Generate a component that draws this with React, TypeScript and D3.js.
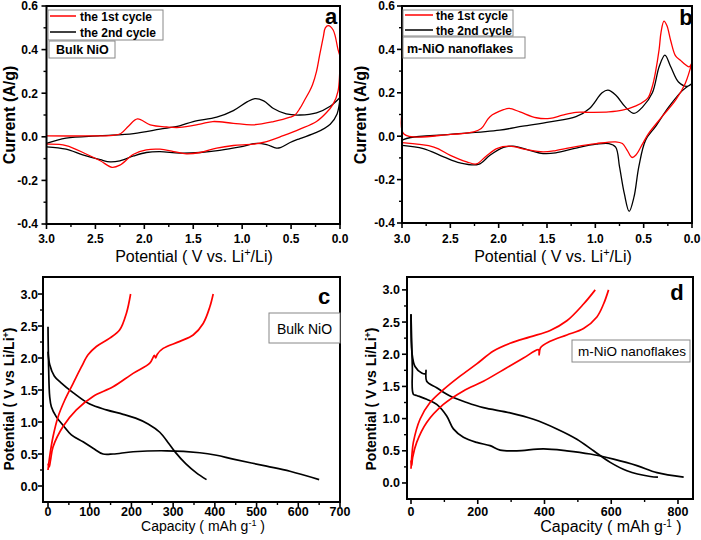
import React from 'react';
import * as d3 from 'd3';

type Pt = [number, number];

// ---------- Panel a (Bulk NiO CV) ----------
const aRed1Cathodic: Pt[] = [[3.0,-0.034],[2.8,-0.04],[2.59,-0.08],[2.45,-0.11],[2.33,-0.14],[2.25,-0.13],[2.11,-0.08],[1.98,-0.06],[1.84,-0.057],[1.70,-0.068],[1.57,-0.078],[1.43,-0.072],[1.26,-0.052],[1.09,-0.04],[0.89,-0.034],[0.75,-0.022],[0.58,0.005],[0.41,0.035],[0.24,0.07],[0.14,0.11],[0.07,0.15],[0.02,0.21],[0.0,0.37]];
const aRed1Anodic: Pt[] = [[0.0,0.37],[0.02,0.40],[0.07,0.49],[0.12,0.51],[0.15,0.50],[0.17,0.46],[0.21,0.37],[0.24,0.30],[0.28,0.24],[0.31,0.21],[0.36,0.17],[0.41,0.13],[0.46,0.10],[0.51,0.09],[0.68,0.07],[0.89,0.055],[1.09,0.062],[1.30,0.07],[1.43,0.058],[1.64,0.043],[1.77,0.045],[1.94,0.055],[2.07,0.082],[2.16,0.05],[2.24,0.015],[2.32,0.007],[2.6,0.004],[3.0,0.004]];
const aBlackCathodic: Pt[] = [[3.0,-0.046],[2.8,-0.057],[2.63,-0.083],[2.45,-0.105],[2.35,-0.115],[2.25,-0.11],[2.11,-0.088],[1.98,-0.072],[1.84,-0.068],[1.64,-0.075],[1.43,-0.072],[1.23,-0.062],[1.02,-0.046],[0.85,-0.03],[0.75,-0.036],[0.65,-0.052],[0.61,-0.05],[0.51,-0.026],[0.41,-0.008],[0.24,0.02],[0.10,0.058],[0.03,0.105],[0.0,0.18]];
const aBlackAnodic: Pt[] = [[0.0,0.18],[0.10,0.14],[0.24,0.11],[0.41,0.10],[0.55,0.105],[0.68,0.13],[0.78,0.165],[0.87,0.175],[0.95,0.16],[1.09,0.12],[1.26,0.09],[1.5,0.07],[1.64,0.05],[1.84,0.035],[2.11,0.015],[2.45,0.005],[2.8,-0.006],[3.0,-0.03]];

// ---------- Panel b (m-NiO nanoflakes CV) ----------
const bRed1Cathodic: Pt[] = [[3.0,-0.03],[2.67,-0.05],[2.5,-0.088],[2.33,-0.118],[2.23,-0.128],[2.13,-0.092],[2.02,-0.057],[1.89,-0.046],[1.71,-0.062],[1.54,-0.072],[1.41,-0.066],[1.20,-0.048],[0.99,-0.034],[0.79,-0.026],[0.72,-0.034],[0.67,-0.065],[0.62,-0.098],[0.58,-0.087],[0.51,-0.034],[0.45,0.012],[0.31,0.09],[0.17,0.166],[0.07,0.243],[0.0,0.34]];
const bRed1Anodic: Pt[] = [[0.0,0.34],[0.03,0.32],[0.07,0.33],[0.12,0.35],[0.17,0.37],[0.22,0.44],[0.26,0.51],[0.29,0.53],[0.32,0.48],[0.34,0.40],[0.38,0.29],[0.41,0.23],[0.45,0.18],[0.48,0.166],[0.58,0.14],[0.72,0.12],[0.86,0.112],[1.06,0.11],[1.20,0.11],[1.34,0.097],[1.47,0.082],[1.61,0.085],[1.78,0.112],[1.89,0.128],[1.95,0.122],[2.09,0.09],[2.18,0.035],[2.26,0.02],[2.5,0.008],[2.98,0.01],[3.0,0.105]];
const bBlackCathodic: Pt[] = [[3.0,-0.042],[2.78,-0.057],[2.57,-0.095],[2.4,-0.123],[2.21,-0.13],[2.09,-0.088],[1.95,-0.052],[1.85,-0.046],[1.68,-0.065],[1.54,-0.08],[1.41,-0.077],[1.20,-0.055],[0.99,-0.037],[0.86,-0.034],[0.79,-0.05],[0.75,-0.14],[0.70,-0.265],[0.65,-0.346],[0.60,-0.28],[0.55,-0.14],[0.48,-0.018],[0.38,0.043],[0.24,0.135],[0.10,0.21],[0.0,0.243]];
const bBlackAnodic: Pt[] = [[0.0,0.243],[0.05,0.23],[0.14,0.25],[0.22,0.32],[0.28,0.374],[0.34,0.32],[0.41,0.2],[0.51,0.135],[0.60,0.105],[0.69,0.135],[0.79,0.19],[0.87,0.212],[0.93,0.2],[1.06,0.128],[1.20,0.09],[1.47,0.066],[1.75,0.046],[1.99,0.028],[2.5,0.008],[2.91,-0.006],[3.0,-0.018]];

// ---------- Panel c (Bulk NiO charge/discharge) ----------
const cBlackDis1: Pt[] = [[0,2.49],[1.5,1.85],[4,1.40],[8,1.24],[20,1.08],[36,0.95],[56,0.80],[84,0.69],[108,0.59],[132,0.50],[156,0.50],[204,0.535],[284,0.55],[364,0.52],[404,0.48],[444,0.42],[524,0.31],[580,0.23],[650,0.1]];
const cBlackDis2: Pt[] = [[0,2.1],[4,1.9],[15,1.72],[30,1.62],[60,1.46],[100,1.28],[140,1.19],[180,1.12],[210,1.06],[240,0.97],[268,0.84],[290,0.66],[305,0.53],[330,0.35],[355,0.21],[380,0.1]];
const cRedCh2: Pt[] = [[0,0.25],[4,0.46],[12,0.77],[24,1.08],[40,1.34],[60,1.6],[80,1.86],[96,2.05],[116,2.18],[148,2.31],[172,2.44],[188,2.70],[198,3.0]];
const cRedCh1: Pt[] = [[0,0.35],[3,0.3],[6,0.4],[12,0.61],[36,0.93],[68,1.19],[108,1.40],[156,1.55],[204,1.76],[244,1.92],[255,2.04],[258,2.0],[262,2.06],[276,2.15],[316,2.26],[348,2.36],[372,2.54],[388,2.8],[396,3.0]];

// ---------- Panel d (m-NiO nanoflakes charge/discharge) ----------
const dBlackA: Pt[] = [[0,2.62],[3,2.02],[12,1.81],[32,1.71],[44,1.70],[45,1.75],[47,1.58],[77,1.48],[117,1.35],[167,1.25],[217,1.17],[297,1.09],[367,0.99],[437,0.84],[497,0.68],[547,0.5],[597,0.32],[647,0.19],[717,0.10],[740,0.09]];
const dBlackB: Pt[] = [[0,2.62],[4,1.8],[7,1.38],[17,1.36],[47,1.30],[77,1.22],[107,1.04],[127,0.84],[157,0.71],[197,0.63],[237,0.58],[267,0.51],[317,0.5],[397,0.53],[467,0.5],[537,0.45],[607,0.37],[677,0.27],[737,0.16],[817,0.09]];
const dRedA: Pt[] = [[0,0.22],[3,0.45],[7,0.63],[27,0.99],[57,1.25],[97,1.45],[147,1.66],[197,1.85],[247,2.05],[297,2.17],[357,2.27],[417,2.37],[467,2.52],[517,2.78],[552,3.0]];
const dRedB: Pt[] = [[0,0.35],[2,0.27],[5,0.4],[17,0.63],[47,0.94],[97,1.22],[157,1.43],[217,1.58],[277,1.76],[337,1.94],[382,2.07],[384,1.99],[388,2.1],[417,2.2],[467,2.3],[517,2.4],[557,2.58],[577,2.78],[592,3.0]];

// ---------- ticks ----------
const cvXTicks = [3.0, 2.5, 2.0, 1.5, 1.0, 0.5, 0.0];
const cvYTicks = [-0.4, -0.2, 0.0, 0.2, 0.4, 0.6];
const cXTicks = [0, 100, 200, 300, 400, 500, 600, 700];
const dXTicks = [0, 200, 400, 600, 800];
const gcdYTicks = [0.0, 0.5, 1.0, 1.5, 2.0, 2.5, 3.0];

const legendLabels = ['the 1st cycle', 'the 2nd cycle'];

const RED = '#ff0000';
const BLK = '#000000';
const FONT = 'Liberation Sans, Arial, sans-serif';

const mids = (t: number[]) => t.slice(1).map((v, i) => (v + t[i]) / 2);

interface Series { data: Pt[]; color: string; w: number }
interface Box { x0: number; x1: number; y0: number; y1: number }

function Panel(props: {
  box: Box; xDomain: [number, number]; yDomain: [number, number];
  xTicks: number[]; yTicks: number[]; xFmt: (v: number) => string; yFmt: (v: number) => string;
  series: Series[]; xLabelBase: number; yLabelRight: number; tickSize: number;
}) {
  const { box, xDomain, yDomain, xTicks, yTicks, xFmt, yFmt, series, xLabelBase, yLabelRight, tickSize } = props;
  const x = d3.scaleLinear().domain(xDomain).range([box.x0, box.x1]);
  const y = d3.scaleLinear().domain(yDomain).range([box.y1, box.y0]);
  const line = d3.line<Pt>().x(d => x(d[0])).y(d => y(d[1])).curve(d3.curveCatmullRom.alpha(0.5));
  const xm = mids(xTicks);
  const ym = mids(yTicks);
  return (
    <g>
      {series.map((s, i) => (
        <path key={i} d={line(s.data) || ''} fill="none" stroke={s.color} strokeWidth={s.w} strokeLinejoin="round" />
      ))}
      <rect x={box.x0} y={box.y0} width={box.x1 - box.x0} height={box.y1 - box.y0} fill="none" stroke="#000" strokeWidth={2} />
      {xTicks.map((t, i) => (
        <g key={'xt' + i}>
          <line x1={x(t)} x2={x(t)} y1={box.y1} y2={box.y1 + 5} stroke="#000" strokeWidth={1.6} />
          <text x={x(t)} y={xLabelBase} textAnchor="middle" fontSize={tickSize} fontWeight="bold" fontFamily={FONT}>{xFmt(t)}</text>
        </g>
      ))}
      {xm.map((t, i) => (
        <line key={'xm' + i} x1={x(t)} x2={x(t)} y1={box.y1} y2={box.y1 + 3} stroke="#000" strokeWidth={1.4} />
      ))}
      {yTicks.map((t, i) => (
        <g key={'yt' + i}>
          <line x1={box.x0 - 5} x2={box.x0} y1={y(t)} y2={y(t)} stroke="#000" strokeWidth={1.6} />
          <text x={yLabelRight} y={y(t)} dy="0.36em" textAnchor="end" fontSize={tickSize} fontWeight="bold" fontFamily={FONT}>{yFmt(t)}</text>
        </g>
      ))}
      {ym.map((t, i) => (
        <line key={'ym' + i} x1={box.x0 - 3} x2={box.x0} y1={y(t)} y2={y(t)} stroke="#000" strokeWidth={1.4} />
      ))}
    </g>
  );
}

const f1 = (v: number) => v.toFixed(1);
const f0 = (v: number) => String(v);

export default function App() {
  const boxA: Box = { x0: 46.5, x1: 340, y0: 6, y1: 224 };
  const boxB: Box = { x0: 402, x1: 692, y0: 6, y1: 223 };
  const boxC: Box = { x0: 43, x1: 340, y0: 277, y1: 502 };
  const boxD: Box = { x0: 407, x1: 693, y0: 277, y1: 499 };
  const cvW = 1.3;
  const gW = 1.7;
  return (
    <svg width={701} height={540} style={{ position: 'absolute', left: 0, top: 0, background: '#fff' }} fontFamily={FONT}>
      <rect width={701} height={540} fill="#fff" />
      {/* Panel a */}
      <Panel box={boxA} xDomain={[3, 0]} yDomain={[-0.4, 0.6]} xTicks={cvXTicks} yTicks={cvYTicks} xFmt={f1} yFmt={f1}
        series={[
          { data: aBlackCathodic.concat(aBlackAnodic), color: BLK, w: cvW },
          { data: aRed1Cathodic.concat(aRed1Anodic), color: RED, w: cvW },
        ]} xLabelBase={243} yLabelRight={38} tickSize={12} />
      <rect x={48} y={10} width={115} height={30} fill="#fff" stroke="#888" strokeWidth={1} />
      <line x1={50} x2={76} y1={16} y2={16} stroke={RED} strokeWidth={1.5} />
      <line x1={50} x2={76} y1={32} y2={32} stroke={BLK} strokeWidth={1.5} />
      <text x={80} y={20.5} fontSize={12} fontWeight="bold">{legendLabels[0]}</text>
      <text x={80} y={36.5} fontSize={12} fontWeight="bold">{legendLabels[1]}</text>
      <rect x={49} y={41} width={66} height={17} fill="#fff" stroke="#888" strokeWidth={1} />
      <text x={56} y={54} fontSize={12.5} fontWeight="bold">Bulk NiO</text>
      <text x={331} y={24} fontSize={22} fontWeight="bold" textAnchor="middle">a</text>
      <text transform="translate(9,115) rotate(-90)" textAnchor="middle" dy="0.36em" fontSize={16} fontWeight="bold">Current (A/g)</text>
      <text x={194} y={262} textAnchor="middle" fontSize={16}>Potential ( V vs. Li<tspan dy={-6} fontSize={11}>+</tspan><tspan dy={6}>/Li)</tspan></text>

      {/* Panel b */}
      <Panel box={boxB} xDomain={[3, 0]} yDomain={[-0.4, 0.6]} xTicks={cvXTicks} yTicks={cvYTicks} xFmt={f1} yFmt={f1}
        series={[
          { data: bBlackCathodic.concat(bBlackAnodic), color: BLK, w: cvW },
          { data: bRed1Cathodic.concat(bRed1Anodic), color: RED, w: cvW },
        ]} xLabelBase={243} yLabelRight={395} tickSize={12} />
      <rect x={403} y={10} width={110} height={26} fill="#fff" stroke="#888" strokeWidth={1} />
      <line x1={405} x2={433} y1={15} y2={15} stroke={RED} strokeWidth={1.5} />
      <line x1={405} x2={433} y1={30} y2={30} stroke={BLK} strokeWidth={1.5} />
      <text x={436} y={19.5} fontSize={12} fontWeight="bold">{legendLabels[0]}</text>
      <text x={436} y={34.5} fontSize={12} fontWeight="bold">{legendLabels[1]}</text>
      <rect x={403} y={37} width={122} height={21} fill="#fff" stroke="#888" strokeWidth={1} />
      <text x={407} y={52.5} fontSize={12.5} fontWeight="bold">m-NiO nanoflakes</text>
      <text x={686} y={25} fontSize={22} fontWeight="bold" textAnchor="middle">b</text>
      <text transform="translate(360,115) rotate(-90)" textAnchor="middle" dy="0.36em" fontSize={16} fontWeight="bold">Current (A/g)</text>
      <text x={553} y={262} textAnchor="middle" fontSize={16}>Potential ( V vs. Li<tspan dy={-6} fontSize={11}>+</tspan><tspan dy={6}>/Li)</tspan></text>

      {/* Panel c */}
      <Panel box={boxC} xDomain={[-12, 700]} yDomain={[-0.25, 3.266]} xTicks={cXTicks} yTicks={gcdYTicks} xFmt={f0} yFmt={f1}
        series={[
          { data: cBlackDis1, color: BLK, w: gW },
          { data: cBlackDis2, color: BLK, w: gW },
          { data: cRedCh1, color: RED, w: gW },
          { data: cRedCh2, color: RED, w: gW },
        ]} xLabelBase={516} yLabelRight={38} tickSize={12.5} />
      <rect x={269} y={313} width={71} height={30} fill="#fff" stroke="#888" strokeWidth={1} />
      <text x={304.5} y={334} textAnchor="middle" fontSize={14}>Bulk NiO</text>
      <text x={324} y={304} fontSize={22} fontWeight="bold" textAnchor="middle">c</text>
      <text transform="translate(9,399) rotate(-90)" textAnchor="middle" dy="0.36em" fontSize={14} fontWeight="bold">Potential ( V vs Li/Li<tspan dy={-5} fontSize={9}>+</tspan><tspan dy={5}>)</tspan></text>
      <text x={203} y={531} textAnchor="middle" fontSize={14}>Capacity ( mAh g<tspan dy={-5} fontSize={9}>-1</tspan><tspan dy={5}> )</tspan></text>

      {/* Panel d */}
      <Panel box={boxD} xDomain={[-12, 845]} yDomain={[-0.249, 3.2]} xTicks={dXTicks} yTicks={gcdYTicks} xFmt={f0} yFmt={f1}
        series={[
          { data: dBlackA, color: BLK, w: gW },
          { data: dBlackB, color: BLK, w: gW },
          { data: dRedA, color: RED, w: gW },
          { data: dRedB, color: RED, w: gW },
        ]} xLabelBase={516} yLabelRight={400} tickSize={12.5} />
      <rect x={572} y={340} width={118} height={22} fill="#fff" stroke="#888" strokeWidth={1} />
      <text x={578} y={356} fontSize={13.5}>m-NiO nanoflakes</text>
      <text x={677} y={300} fontSize={22} fontWeight="bold" textAnchor="middle">d</text>
      <text transform="translate(371,399) rotate(-90)" textAnchor="middle" dy="0.36em" fontSize={14} fontWeight="bold">Potential ( V vs Li/Li<tspan dy={-5} fontSize={9}>+</tspan><tspan dy={5}>)</tspan></text>
      <text x={611} y={532} textAnchor="middle" fontSize={16}>Capacity ( mAh g<tspan dy={-5} fontSize={10}>-1</tspan><tspan dy={5}> )</tspan></text>
    </svg>
  );
}
